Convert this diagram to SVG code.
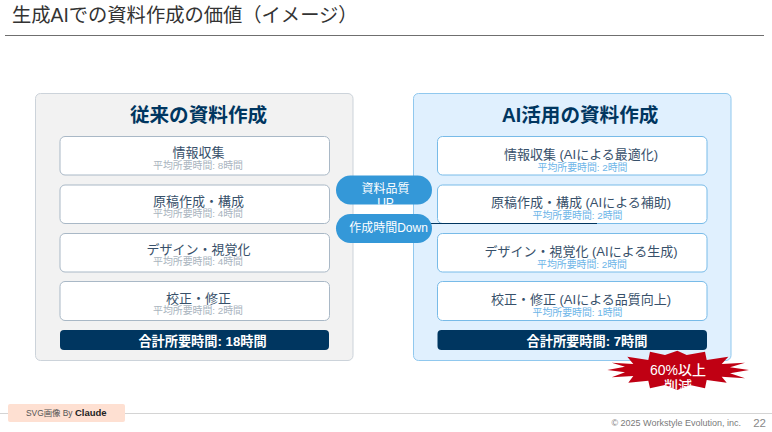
<svg xmlns="http://www.w3.org/2000/svg" width="772" height="432" viewBox="0 0 772 432">
<style>
text{font-family:"Liberation Sans","Noto Sans CJK JP",sans-serif;text-anchor:middle}
.panel{stroke-width:1}
.lp{fill:#f2f2f2;stroke:#ccd3da}
.rp{fill:#e0f0fe;stroke:#90c8ee}
.lc{fill:#fff;stroke:#a9b8c6}
.rc{fill:#fff;stroke:#78bbe8}
.h{font-size:19.600px;font-weight:700;fill:#003660}
.t{font-size:13px;fill:#37506a}
.ls{font-size:9.900px;fill:#a9b4be}
.rs{font-size:9.900px;fill:#6db5e8}
.bar{fill:#003660}
.bt{font-size:13.200px;font-weight:700;fill:#fff}
.pill{fill:#3498d8}
.pt{font-size:12px;fill:#fff}
</style>
<defs>
<clipPath id="clipUp"><rect x="336" y="175.500" width="96" height="29" rx="14.500"/></clipPath>
<clipPath id="clipStar"><polygon points="677.300,350.700 686.700,355 705,351.700 706.700,360 728.300,356.700 721.700,364 745,362.700 730,367.300 749,370 730,373.300 745,378.300 721.700,376.700 726.700,382.700 706.700,380 705,388.300 690,385 677.300,390 665,385 650,388.300 648.300,380.700 628.300,382.700 633.300,376 611.700,377.300 625,372.300 607.300,370 625,366.700 611.700,362.700 633.300,364 627.300,356.700 648.300,360 650,351.700 665,355"/></clipPath>
</defs>
<rect width="772" height="432" fill="#fff"/>
<g id="header">
<text x="12" y="21.500" style="text-anchor:start;font-size:19.300px;fill:#333">生成AIでの資料作成の価値（イメージ）</text>
<line x1="5" y1="35.500" x2="764" y2="35.500" stroke="#6f6f6f" stroke-width="1"/>
</g>
<g id="left-panel">
<rect class="lp" x="35.500" y="93.500" width="317.500" height="267" rx="5"/>
<text class="h" x="198.500" y="122">従来の資料作成</text>
</g>
<g id="left-1"><rect class="lc" x="60" y="136.500" width="269.500" height="38.500" rx="5"/><text class="t" x="198.500" y="157">情報収集</text><text class="ls" x="198" y="168.500">平均所要時間: 8時間</text></g>
<g id="left-2"><rect class="lc" x="60" y="185" width="269.500" height="38.500" rx="5"/><text class="t" x="198.500" y="205.500">原稿作成・構成</text><text class="ls" x="198" y="217">平均所要時間: 4時間</text></g>
<g id="left-3"><rect class="lc" x="60" y="233.500" width="269.500" height="38.500" rx="5"/><text class="t" x="198.500" y="253.500">デザイン・視覚化</text><text class="ls" x="198" y="265">平均所要時間: 4時間</text></g>
<g id="left-4"><rect class="lc" x="60" y="281.500" width="269.500" height="39" rx="5"/><text class="t" x="198.500" y="302.500">校正・修正</text><text class="ls" x="198" y="314">平均所要時間: 2時間</text></g>
<g id="left-total"><rect class="bar" x="60" y="330" width="269" height="20" rx="4"/><text class="bt" x="202.500" y="346">合計所要時間: 18時間</text></g>
<g id="right-panel">
<rect class="rp" x="413.500" y="93.500" width="317.500" height="267" rx="5"/>
<text class="h" x="580" y="122">AI活用の資料作成</text>
</g>
<g id="right-1"><rect class="rc" x="437.500" y="136.500" width="269.500" height="38.500" rx="5"/><text class="t" x="581" y="158.500">情報収集 (AIによる最適化)</text><text class="rs" x="582.500" y="170.500">平均所要時間: 2時間</text></g>
<g id="right-2"><rect class="rc" x="437.500" y="185" width="269.500" height="38.500" rx="5"/><text class="t" x="581" y="207">原稿作成・構成 (AIによる補助)</text><text class="rs" x="577.500" y="219">平均所要時間: 2時間</text></g>
<g id="right-3"><rect class="rc" x="437.500" y="233.500" width="269.500" height="38.500" rx="5"/><text class="t" x="581" y="255.500">デザイン・視覚化 (AIによる生成)</text><text class="rs" x="582" y="267.500">平均所要時間: 2時間</text></g>
<g id="right-4"><rect class="rc" x="437.500" y="281.500" width="269.500" height="39" rx="5"/><text class="t" x="581" y="303.500">校正・修正 (AIによる品質向上)</text><text class="rs" x="577.500" y="315.500">平均所要時間: 1時間</text></g>
<g id="right-total"><rect class="bar" x="437.500" y="330" width="269.500" height="20" rx="4"/><text class="bt" x="587" y="346">合計所要時間: 7時間</text></g>
<g id="connectors"><line x1="420" y1="223.500" x2="597" y2="223.500" stroke="#003660" stroke-width="1.200"/></g>
<g id="pill-quality"><rect class="pill" x="336" y="175.500" width="96" height="29" rx="14.500"/><g clip-path="url(#clipUp)"><text class="pt" x="385.500" y="193">資料品質</text><text class="pt" x="385.500" y="207">UP</text></g></g>
<g id="pill-time"><rect class="pill" x="336" y="214" width="96" height="29" rx="14.500"/><text class="pt" x="388.500" y="232">作成時間Down</text></g>
<g id="badge">
<polygon fill="#c00013" points="677.300,350.700 686.700,355 705,351.700 706.700,360 728.300,356.700 721.700,364 745,362.700 730,367.300 749,370 730,373.300 745,378.300 721.700,376.700 726.700,382.700 706.700,380 705,388.300 690,385 677.300,390 665,385 650,388.300 648.300,380.700 628.300,382.700 633.300,376 611.700,377.300 625,372.300 607.300,370 625,366.700 611.700,362.700 633.300,364 627.300,356.700 648.300,360 650,351.700 665,355"/>
<g clip-path="url(#clipStar)"><text x="678" y="375" style="font-size:14px;fill:#fff;font-weight:500">60%以上</text><text x="678" y="391" style="font-size:14px;fill:#fff;font-weight:500">削減</text></g>
</g>
<g id="footer">
<line x1="0" y1="413.500" x2="772" y2="413.500" stroke="#d4d4d4" stroke-width="1"/>
<rect x="8" y="404" width="117" height="18" rx="2" fill="#fee0d2"/>
<text x="26" y="416" style="text-anchor:start;font-size:8.400px;fill:#555">SVG画像 By <tspan style="font-size:9.500px;font-weight:700;fill:#222">Claude</tspan></text>
<text x="741" y="426" style="text-anchor:end;font-size:9px;fill:#7a7a7a">© 2025 Workstyle Evolution, inc.</text>
<text x="766" y="427" style="text-anchor:end;font-size:11.500px;fill:#888">22</text>
</g>
</svg>
